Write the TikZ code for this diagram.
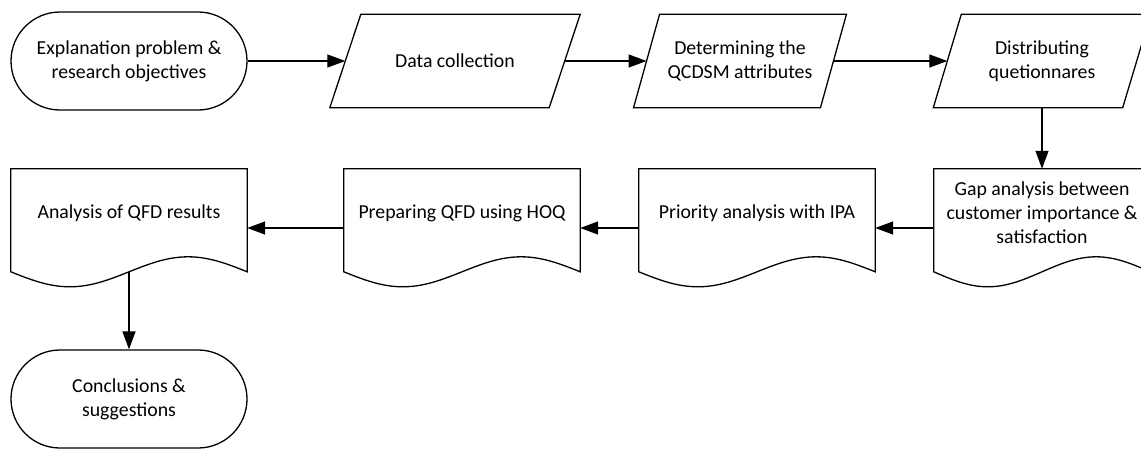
\documentclass[tikz,border=0pt]{standalone}
\usepackage{fontspec}
\setmainfont{Carlito}
\usetikzlibrary{arrows.meta,calc}

% outline of a data (parallelogram) box around a node; #2 = half of the slant
\newcommand\paraoutline[2]{%
  \draw[outline] ($(#1.south west)+(-#2,0)$) -- ($(#1.north west)+(#2,0)$)
    -- ($(#1.north east)+(#2,0)$) -- ($(#1.south east)+(-#2,0)$) -- cycle;}

% outline of a document box: straight sides, wavy bottom; #2 = width
\newcommand\docoutline[2]{%
  \draw[outline] (#1.north west) -- (#1.north east) -- ($(#1.north east)+(0,103)$)
    sin ($(#1.north east)+({-#2/4},88)$) cos ($(#1.north)+(0,103)$)
    sin ($(#1.north west)+({#2/4},118)$) cos ($(#1.north west)+(0,103)$) -- cycle;}

\begin{document}
\begin{tikzpicture}[x=1pt,y=-1pt,
  every node/.style={font=\fontsize{19.8}{24}\selectfont, inner sep=0pt, align=center},
  outline/.style={draw=black, line width=1.3pt, line join=miter},
  term/.style={draw=black, line width=1.3pt, rounded corners=49pt,
    minimum width=236pt, minimum height=98pt},
  databox/.style={minimum width=#1, minimum height=93pt},
  docbox/.style={minimum width=#1, minimum height=88pt},
  arr/.style={line width=1.3pt, -{Triangle[length=18pt,width=13pt]}}]

\path[use as bounding box] (0,0) rectangle (1141,448);
\clip (0,0) rectangle (1141,448);

% top row
\node[term] (T1) at (129,61) {Explanation problem \&\\research objectives};
\node[databox=219pt] (P1) at (455,61) {Data collection};
\node[databox=186.5pt] (P2) at (740,61) {Determining the\\QCDSM attributes};
\node[databox=189pt] (P3) at (1042,61) {Distributing\\quetionnares};
\paraoutline{P1}{15.5}
\paraoutline{P2}{13}
\paraoutline{P3}{14}

% second row (documents)
\node[docbox=216pt] (G) at (1042,213) {Gap analysis between\\customer importance \&\\satisfaction};
\node[docbox=236pt] (Pr) at (757,213) {Priority analysis with IPA};
\node[docbox=236pt] (Pp) at (462,213) {Preparing QFD using HOQ};
\node[docbox=236pt] (A) at (129,213) {Analysis of QFD results};
\docoutline{G}{216}
\docoutline{Pr}{236}
\docoutline{Pp}{236}
\docoutline{A}{236}

% end
\node[term] (C) at (129,399) {Conclusions \&\\suggestions};

% connectors
\draw[arr] (T1.east) -- (P1.west);
\draw[arr] (P1.east) -- (P2.west);
\draw[arr] (P2.east) -- (P3.west);
\draw[arr] (P3.south) -- (G.north);
\draw[arr] ($(G.west)+(0,15)$) -- ($(Pr.east)+(0,15)$);
\draw[arr] ($(Pr.west)+(0,15)$) -- ($(Pp.east)+(0,15)$);
\draw[arr] ($(Pp.west)+(0,15)$) -- ($(A.east)+(0,15)$);
\draw[arr] ($(A.north)+(0,103)$) -- (C.north);
\end{tikzpicture}
\end{document}
